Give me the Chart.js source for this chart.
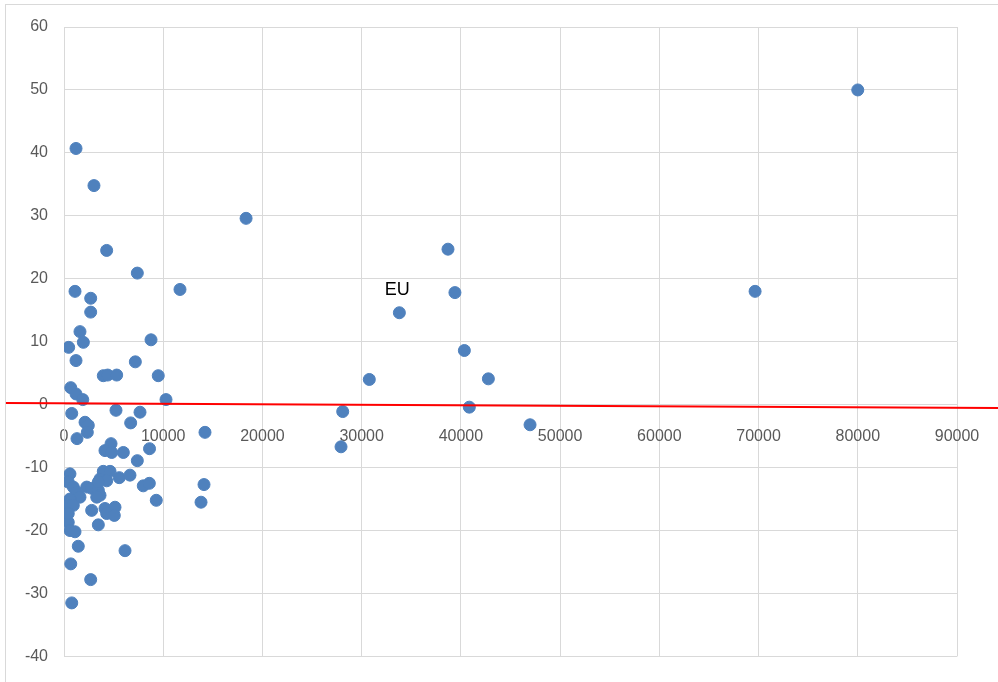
<!DOCTYPE html>
<html>
<head>
<meta charset="utf-8">
<script src="https://cdn.jsdelivr.net/npm/chart.js@4/dist/chart.umd.min.js"></script>
<style>
    html, body { margin: 0; padding: 0; background: #fff; }
    body { width: 998px; height: 682px; overflow: hidden; position: relative; }
    .frame { position: absolute; left: 5px; top: 4px; width: 1000px; height: 700px; border: 1.5px solid #d9d9d9; box-sizing: border-box; }
    .chart-box { position: absolute; left: 0; top: 0; width: 998px; height: 682px; }
</style>
</head>
<body>
<div class="frame"></div>
<div class="chart-box"><canvas id="scatter"></canvas></div>
<script>
// points (x, y pairs)
const xValues = [
    80000, 69650, 18350, 38700, 39400, 33800, 30770, 40350, 42770, 40850,
    46970, 28090, 27920, 11690, 14210, 14110, 13810, 1210, 3020, 4300,
    7390, 1110, 2690, 2690, 1610, 1950, 470, 1210, 8770, 7190,
    3960, 4400, 5310, 9500, 680, 1210, 1890, 10280, 780, 5240,
    7660, 6720, 2120, 2450, 2350, 1310, 4740, 4130, 4810, 5980,
    8620, 7390, 3960, 4640, 3630, 4300, 5570, 6650, 2290, 2790,
    3460, 3630, 7990, 8600, 9300, 600, 430, 940, 1280, 1610,
    600, 270, 940, 2790, 4130, 5140, 4300, 5070, 3460, 430,
    600, 1110, 1440, 6150, 680, 2690, 780, 3460, 3300, 430
];
const yValues = [
    50.0, 18.0, 29.6, 24.7, 17.8, 14.6, 4.0, 8.6, 4.1, -0.4,
    -3.2, -1.1, -6.7, 18.3, -4.4, -12.7, -15.5, 40.7, 34.8, 24.5,
    20.9, 18.0, 16.9, 14.7, 11.6, 9.9, 9.1, 7.0, 10.3, 6.8,
    4.6, 4.7, 4.7, 4.6, 2.7, 1.7, 0.8, 0.8, -1.4, -0.9,
    -1.2, -2.9, -2.8, -3.3, -4.4, -5.4, -6.2, -7.3, -7.6, -7.6,
    -7.0, -8.9, -10.6, -10.6, -11.8, -12.1, -11.6, -11.2, -13.1, -13.3,
    -13.6, -14.4, -12.9, -12.5, -15.2, -11.0, -12.3, -13.1, -13.9, -14.7,
    -15.0, -16.0, -16.0, -16.8, -16.5, -16.3, -17.3, -17.6, -19.1, -18.7,
    -20.0, -20.2, -22.5, -23.2, -25.3, -27.8, -31.5, -12.3, -14.7, -17.3
];
const labelText = 'EU';
const labelIndex = 5;

// red reference line, runs past the plot edges
const lineX = [-5850, 94150];
const lineY = [0.25, -0.55];

const xTicks = [0, 10000, 20000, 30000, 40000, 50000, 60000, 70000, 80000, 90000];
const yTicks = [-40, -30, -20, -10, 0, 10, 20, 30, 40, 50, 60];

const points = xValues.map((x, i) => ({ x: x, y: yValues[i] }));
const redLine = lineX.map((x, i) => ({ x: x, y: lineY[i] }));

const gridColor = '#d9d9d9';
const tickFont = { family: 'Liberation Sans', size: 16 };

const pointLabel = {
    id: 'pointLabel',
    afterDatasetsDraw(chart) {
        const meta = chart.getDatasetMeta(1);
        const el = meta.data[labelIndex];
        if (!el) return;
        const ctx = chart.ctx;
        ctx.save();
        ctx.font = '18px "Liberation Sans"';
        ctx.fillStyle = '#000';
        ctx.textAlign = 'center';
        ctx.textBaseline = 'middle';
        ctx.fillText(labelText, el.x - 2, el.y - 23);
        ctx.restore();
    }
};

new Chart(document.getElementById('scatter'), {
    type: 'scatter',
    data: {
        datasets: [
            {
                data: redLine,
                showLine: true,
                borderColor: '#ff0000',
                borderWidth: 2,
                pointRadius: 0,
                clip: false,
                order: 0
            },
            {
                data: points,
                backgroundColor: '#4f81bd',
                borderColor: '#4f81bd',
                borderWidth: 1,
                pointRadius: 6,
                order: 1
            }
        ]
    },
    options: {
        responsive: true,
        maintainAspectRatio: false,
        animation: false,
        layout: { autoPadding: false, padding: { left: 0, right: 41, top: 27, bottom: 24 } },
        plugins: { legend: { display: false }, tooltip: { enabled: false } },
        scales: {
            x: {
                type: 'linear',
                min: 0,
                max: 90000,
                position: { y: 0 },
                afterBuildTicks: (scale) => { scale.ticks = xTicks.map(v => ({ value: v })); },
                ticks: { font: tickFont, color: '#595959', padding: 1, maxRotation: 0, callback: (v) => String(v) },
                grid: { color: gridColor, drawTicks: true, tickLength: 21, tickColor: 'rgba(0,0,0,0)' },
                border: { color: gridColor }
            },
            y: {
                min: -40,
                max: 60,
                afterBuildTicks: (scale) => { scale.ticks = yTicks.map(v => ({ value: v })); },
                afterFit: (scale) => { scale.width = 64; },
                ticks: { font: tickFont, color: '#595959', padding: 16, callback: (v) => String(v) },
                grid: { color: gridColor, drawTicks: false },
                border: { color: gridColor }
            }
        }
    },
    plugins: [pointLabel]
});
</script>
</body>
</html>
